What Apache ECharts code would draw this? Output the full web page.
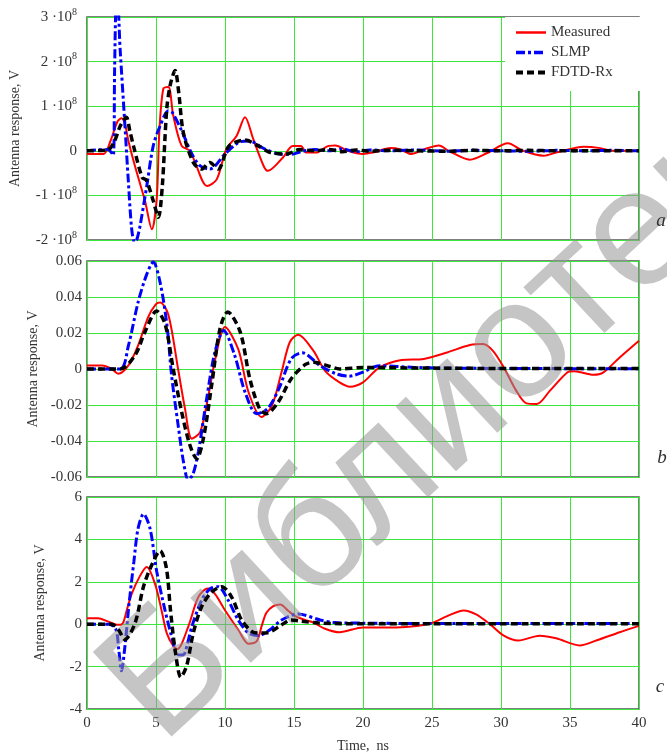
<!DOCTYPE html>
<html>
<head>
<meta charset="utf-8">
<script src="https://cdn.jsdelivr.net/npm/echarts@6/dist/echarts.min.js"></script>
<style>
html,body{margin:0;padding:0;background:#fff;}
#chart{width:667px;height:754px;}
</style>
</head>
<body>
<div id="chart"></div>
<script>
// ---------------- DATA ----------------
const seriesNames = ['Measured', 'SLMP', 'FDTD-Rx'];
const timeTicks = [0, 5, 10, 15, 20, 25, 30, 35, 40];

// Panel a (values in units of 10^8 V), [time ns, value]
const aMeasured = [[0,-0.07],[1.2,-0.07],[1.7,0.22],[2.2,0.65],[2.5,0.73],[2.75,0.6],[3.0,0.22],[3.5,-0.37],[4.2,-1.12],[4.7,-1.76],[5.05,-1.09],[5.24,0.42],[5.53,1.39],[5.9,1.43],[6.25,0.79],[6.86,0.11],[7.46,0],[7.83,-0.26],[8.7,-0.79],[9.4,-0.64],[10.1,0.04],[10.85,0.34],[11.45,0.75],[12.05,0.26],[12.8,-0.34],[13.1,-0.45],[14.2,-0.15],[14.9,0.11],[15.5,0.11],[15.9,-0.04],[16.6,-0.04],[17.5,0.11],[18.0,0.12],[18.9,0.0],[20.0,-0.07],[20.7,-0.04],[22.0,0.06],[22.7,0.03],[23.5,-0.07],[24.4,0.03],[25.5,0.12],[26.2,0.0],[27.75,-0.2],[29.0,-0.05],[30.5,0.17],[31.6,0.0],[33.1,-0.11],[34.0,-0.04],[36.0,0.09],[37.2,0.06],[38.1,0.0],[40,0.0]];
const aSLMP = [[0,0],[1.5,0.03],[1.9,-0.1],[2.0,1.8],[2.1,3.3],[2.2,3.4],[2.4,2.28],[2.75,0.56],[3.0,-0.7],[3.24,-1.76],[3.45,-2.05],[3.6,-2.0],[3.84,-1.69],[4.33,-0.79],[4.8,0.11],[5.3,0.56],[5.9,0.9],[6.2,0.85],[6.86,0.45],[7.6,-0.07],[8.2,-0.34],[8.9,-0.41],[10.0,-0.07],[11.0,0.19],[11.7,0.22],[12.9,0.04],[13.9,-0.07],[14.8,-0.08],[15.5,-0.02],[16.5,0.03],[17.5,0.0],[18.5,0.04],[19.5,-0.02],[20.5,0.02],[22,0],[24,0.02],[26,-0.01],[28,0.01],[30,0],[32,-0.01],[34,0.01],[36,0],[38,0.01],[40,0]];
const aFDTD = [[0,0],[1.5,0.02],[2.0,0.22],[2.4,0.55],[2.85,0.75],[3.1,0.45],[3.4,0.07],[4.0,-0.6],[4.3,-0.66],[4.8,-1.12],[5.17,-1.49],[5.45,-0.82],[5.78,0.94],[6.05,1.5],[6.38,1.8],[6.65,1.3],[6.98,0.41],[7.7,-0.26],[8.3,-0.41],[8.9,-0.26],[9.5,-0.41],[10.3,0.11],[11.45,0.24],[12.4,0.11],[13.3,-0.04],[14.5,-0.07],[15.4,0.03],[16.5,0.0],[17.5,0.03],[18.5,-0.02],[19.5,0.02],[20.5,-0.01],[22,0.01],[24,0],[26,-0.01],[28,0.01],[30,0],[32,0.01],[34,0],[36,0],[38,0],[40,0]];

// Panel b (V)
const bMeasured = [[0,0.002],[1.1,0.002],[1.8,0.0],[2.27,-0.0026],[3.0,0.002],[3.7,0.013],[4.44,0.029],[5.0,0.036],[5.3,0.037],[5.9,0.03],[6.6,0.0],[7.1,-0.022],[7.6,-0.0387],[8.2,-0.035],[8.8,-0.0147],[9.3,0.0057],[10.0,0.0233],[10.96,0.011],[11.7,-0.0128],[12.65,-0.0267],[13.4,-0.0204],[14.1,-0.0017],[14.7,0.015],[15.3,0.019],[16.4,0.0102],[17.25,-0.001],[18.3,-0.0074],[19.06,-0.0098],[20.0,-0.0074],[21.2,0.0009],[22.8,0.005],[24.4,0.0056],[26.1,0.0092],[27.75,0.0133],[28.7,0.0139],[29.4,0.0102],[30.2,0.0009],[31.1,-0.012],[31.85,-0.0191],[32.6,-0.0194],[33.55,-0.012],[34.8,-0.0019],[35.3,-0.0012],[36.7,-0.0032],[37.4,-0.002],[38.6,0.0064],[40,0.0157]];
const bSLMP = [[0,0],[2.4,0],[3.0,0.013],[3.7,0.037],[4.3,0.052],[4.8,0.0594],[5.3,0.048],[5.8,0.024],[6.13,-0.0036],[6.6,-0.031],[7.0,-0.052],[7.35,-0.062],[7.7,-0.058],[8.07,-0.046],[8.67,-0.0165],[9.27,0.0094],[9.9,0.0214],[10.7,0.0076],[11.45,-0.0128],[12.3,-0.0248],[13.1,-0.022],[13.9,-0.011],[14.8,0.0057],[15.6,0.009],[16.9,0.0018],[18.1,-0.0028],[19.0,-0.004],[20.0,-0.0017],[21.2,0.0018],[23.7,0.0009],[26,0.0005],[30,0.0003],[35,0.0002],[40,0.0002]];
const bFDTD = [[0,0],[2.4,0],[3.48,0.0076],[4.2,0.0206],[5.05,0.0322],[5.65,0.0252],[6.25,0.0],[6.86,-0.0239],[7.46,-0.0424],[7.95,-0.0498],[8.43,-0.0387],[9.03,-0.0091],[9.64,0.0224],[10.2,0.0317],[11.1,0.0206],[11.8,-0.0054],[12.5,-0.022],[13.0,-0.0248],[13.86,-0.0183],[14.8,-0.0054],[15.8,0.0024],[16.4,0.0037],[17.6,0.0014],[18.3,0.0],[20,0.0008],[25,0.0005],[30,0.0003],[40,0.0003]];

// Panel c (V)
const cMeasured = [[0,0.28],[0.8,0.28],[1.55,0.12],[2.27,-0.03],[2.6,0.05],[2.88,0.66],[3.24,1.43],[3.84,2.28],[4.33,2.7],[4.93,1.9],[5.4,0.66],[5.78,-0.42],[6.25,-1.03],[6.55,-1.17],[7.34,-0.11],[8.07,1.28],[8.75,1.68],[9.27,1.43],[10.0,0.66],[10.96,-0.26],[11.7,-0.92],[12.3,-0.8],[12.66,-0.08],[13.0,0.54],[13.5,0.85],[14.0,0.93],[14.6,0.62],[15.1,0.38],[15.8,0.2],[16.4,0.08],[17.2,-0.2],[18.3,-0.38],[20,-0.15],[22.4,-0.15],[23.9,-0.08],[25.1,0.08],[26.1,0.38],[27.3,0.65],[28.2,0.46],[29.2,0],[30.2,-0.54],[31.25,-0.77],[32.8,-0.54],[34.0,-0.66],[35.7,-1.0],[36.9,-0.77],[38.6,-0.38],[40,-0.08]];
const cSLMP = [[0,0],[1.6,0],[2.1,-0.26],[2.3,-1.19],[2.5,-2.2],[2.75,-1.03],[3.05,0.97],[3.4,2.97],[3.7,4.51],[4.1,5.2],[4.57,4.51],[5.05,2.5],[5.65,0.66],[6.25,-0.88],[6.5,-1.42],[6.9,-1.45],[7.1,-1.34],[7.6,-0.11],[8.3,1.12],[8.9,1.66],[9.5,1.77],[10.24,1.12],[10.96,0.2],[11.7,-0.42],[12.4,-0.54],[13.26,-0.26],[14.1,0.2],[15.3,0.48],[16.9,0.2],[17.9,0.08],[20,0.05],[25,0.03],[30,0.03],[35,0.03],[40,0.03]];
const cFDTD = [[0,0],[1.8,0],[2.27,-0.26],[2.75,-0.72],[3.48,0.05],[4.08,1.74],[4.6,2.66],[5.3,3.46],[5.75,2.66],[6.05,0.66],[6.38,-1.19],[6.8,-2.5],[7.22,-1.96],[7.7,-0.42],[8.3,0.82],[9.03,1.51],[9.76,1.77],[10.48,1.28],[11.2,0.2],[11.93,-0.34],[12.4,-0.42],[13.1,-0.4],[14.1,-0.03],[14.8,0.2],[15.4,0.15],[16.9,0.05],[20,0.02],[25,0.02],[30,0.02],[40,0.02]];

// y axis ranges per panel
const yRanges = [{min:-2, max:3, interval:1}, {min:-0.06, max:0.06, interval:0.02}, {min:-4, max:6, interval:2}];
const panelLetters = ['a', 'b', 'c'];
const watermarkText = 'Библиотека';

// ---------------- CHART ----------------
const FONT = '"Liberation Serif", "Times New Roman", serif';
const TXT = '#333';
const GRIDC = '#3be83b';
const grids = [
  {left: 87, top: 17, width: 552, height: 223},
  {left: 87, top: 261, width: 552, height: 216},
  {left: 87, top: 497, width: 552, height: 214}
];
const styles = [
  {color: '#ff0000', width: 2, type: 'solid'},
  {color: '#0000ff', width: 3, type: [9, 3, 3, 3]},
  {color: '#000000', width: 3.5, type: [7, 4]}
];
const panelData = [[aMeasured, aSLMP, aFDTD], [bMeasured, bSLMP, bFDTD], [cMeasured, cSLMP, cFDTD]];

const xAxes = [], yAxes = [], series = [];
grids.forEach((g, i) => {
  xAxes.push({
    type: 'value', gridIndex: i, min: timeTicks[0], max: timeTicks[timeTicks.length - 1],
    interval: timeTicks[1] - timeTicks[0],
    axisLine: {show: false}, axisTick: {show: false},
    axisLabel: {show: i === 2, fontFamily: FONT, fontSize: 15, color: TXT, margin: 7},
    splitLine: {show: true, lineStyle: {color: GRIDC, width: 1}},
    name: i === 2 ? 'Time,  ns' : '', nameLocation: 'middle', nameGap: 30,
    nameTextStyle: {fontFamily: FONT, fontSize: 14, color: TXT}
  });
  const r = yRanges[i];
  yAxes.push({
    type: 'value', gridIndex: i, min: r.min, max: r.max, interval: r.interval,
    axisLine: {show: false}, axisTick: {show: false},
    axisLabel: {
      fontFamily: FONT, fontSize: 15, color: TXT, margin: i === 0 ? 10 : 5,
      formatter: i === 0
        ? (v => Math.abs(v) < 1e-9 ? '{n|0}' : '{n|' + Math.round(v) + ' \u00b710}{s|8}')
        : i === 1 ? (v => Math.abs(v) < 1e-9 ? '0' : v.toFixed(2)) : (v => String(Math.round(v))),
      rich: {
        n: {fontFamily: FONT, fontSize: 15, color: TXT, lineHeight: 20},
        s: {fontFamily: FONT, fontSize: 10, color: TXT, verticalAlign: 'top', lineHeight: 10}
      }
    },
    splitLine: {show: true, lineStyle: {color: GRIDC, width: 1}},
    name: 'Antenna response, V', nameLocation: 'middle', nameRotate: 90,
    nameGap: i === 0 ? 65 : (i === 1 ? 47 : 40),
    nameTextStyle: {fontFamily: FONT, fontSize: 14, color: TXT}
  });
  panelData[i].forEach((d, k) => {
    series.push({
      type: 'line', name: seriesNames[k], xAxisIndex: i, yAxisIndex: i,
      data: d, symbol: 'none', legendIcon: 'none', smooth: 0.3, clip: true,
      lineStyle: {color: styles[k].color, width: styles[k].width, type: styles[k].type, cap: 'butt'},
      itemStyle: {color: styles[k].color},
      z: 3 + k, animation: false
    });
  });
});

const letterPos = [[661, 221], [662, 458], [660, 687]];
const graphics = letterPos.map((p, i) => ({
  type: 'text', x: p[0], y: p[1], z: 10,
  style: {text: panelLetters[i], font: 'italic 19px ' + FONT, fill: TXT, align: 'center', verticalAlign: 'middle'}
}));
// watermark
graphics.push({
  type: 'text', x: 130, y: 712, rotation: 43 * Math.PI / 180, z: 5, silent: true,
  style: {text: watermarkText, font: '168px "Liberation Sans", Arial, sans-serif', fill: 'rgba(150,150,150,0.55)', align: 'left', verticalAlign: 'middle'}
});

const chart = echarts.init(document.getElementById('chart'), null, {renderer: 'canvas'});
chart.setOption({
  animation: false,
  backgroundColor: '#fff',
  grid: grids.map(g => Object.assign({show: true, borderColor: '#555', borderWidth: 1.5, backgroundColor: 'transparent'}, g)),
  xAxis: xAxes,
  yAxis: yAxes,
  legend: {
    data: seriesNames.map((n, k) => ({name: n, lineStyle: {width: styles[k].width + 0.5, type: styles[k].type, color: styles[k].color}})),
    orient: 'vertical', left: 505, top: 17,
    padding: [8, 28, 11, 9], itemGap: 5, itemWidth: 30, itemHeight: 14,
    backgroundColor: '#fff', z: 6,
    itemStyle: {opacity: 0},
    textStyle: {fontFamily: FONT, fontSize: 15, color: TXT}
  },
  series: series,
  graphic: graphics
});
</script>
</body>
</html>
